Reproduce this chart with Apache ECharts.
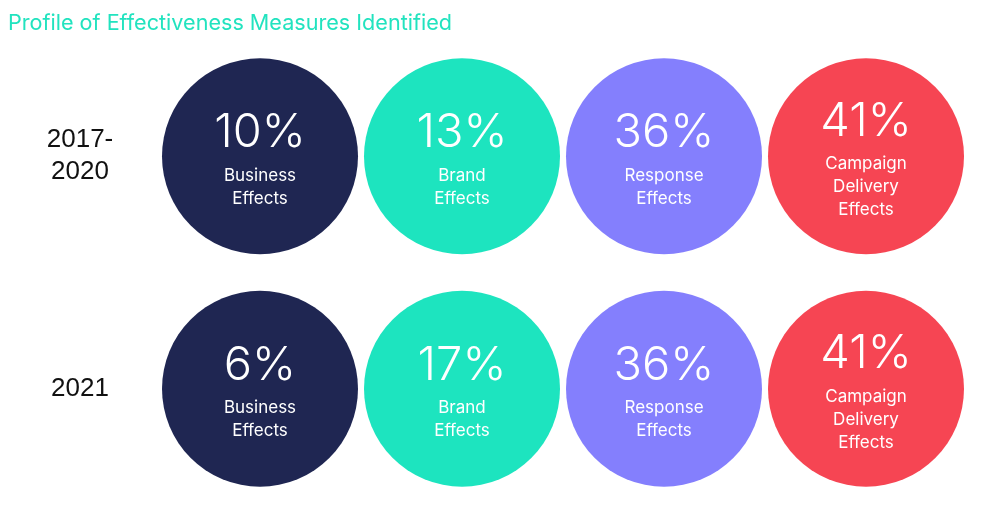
<!DOCTYPE html>
<html>
<head>
<meta charset="utf-8">
<script src="https://cdn.jsdelivr.net/npm/echarts@6/dist/echarts.min.js"></script>
<style>
  html, body { margin: 0; padding: 0; background: #ffffff; }
  #chart { width: 996px; height: 514px; }
</style>
</head>
<body>
<div id="chart"></div>
<script>
// Effect types (one circle per column) and the two time periods (rows)
const measures = ['Business Effects', 'Brand Effects', 'Response Effects', 'Campaign Delivery Effects'];
const periods = ['2017-\n2020', '2021'];

// Share of effectiveness measures identified, in percent
const share2017to2020 = [10, 13, 36, 41];
const share2021 = [6, 17, 36, 41];

const circleColors = ['#1f2652', '#1de4bf', '#847ffd', '#f64553'];

const rows = [share2017to2020, share2021];
const points = [];
rows.forEach((vals, r) => {
  vals.forEach((v, c) => {
    points.push({
      value: [c, r, v],
      itemStyle: { color: circleColors[c], opacity: 1 }
    });
  });
});

const chart = echarts.init(document.getElementById('chart'), null, { renderer: 'canvas' });
chart.setOption({
  backgroundColor: '#ffffff',
  animation: false,
  title: {
    text: 'Profile of Effectiveness Measures Identified',
    left: 3,
    top: 7,
    textStyle: {
      fontFamily: 'Inter',
      fontSize: 21.6,
      fontWeight: 'normal',
      color: '#22e3bf'
    }
  },
  grid: { left: 159, right: 29, top: 40, bottom: 9 },
  xAxis: {
    type: 'category',
    data: measures,
    boundaryGap: true,
    axisLine: { show: false },
    axisTick: { show: false },
    axisLabel: { show: false },
    splitLine: { show: false }
  },
  yAxis: {
    type: 'category',
    data: periods,
    inverse: true,
    boundaryGap: true,
    axisLine: { show: false },
    axisTick: { show: false },
    splitLine: { show: false },
    axisLabel: {
      align: 'center',
      margin: 79,
      fontFamily: 'Liberation Sans',
      fontSize: 26,
      lineHeight: 32,
      color: '#111111',
      padding: [4, 0, 0, 0]
    }
  },
  series: [{
    type: 'scatter',
    symbol: 'circle',
    symbolSize: 196,
    itemStyle: { opacity: 1 },
    data: points,
    label: {
      show: true,
      position: 'inside',
      formatter: (p) => {
        const lines = measures[p.value[0]].split(' ');
        return '{pct|' + p.value[2] + '%}\n' + lines.map(l => '{txt|' + l + '}').join('\n');
      },
      rich: {
        pct: {
          fontFamily: 'Inter',
          fontSize: 47,
          fontWeight: 300,
          lineHeight: 62,
          color: '#ffffff',
          align: 'center'
        },
        txt: {
          fontFamily: 'Inter',
          fontSize: 17,
          lineHeight: 23,
          color: '#ffffff',
          align: 'center'
        }
      }
    },
    emphasis: { disabled: true }
  }]
});
</script>
</body>
</html>
